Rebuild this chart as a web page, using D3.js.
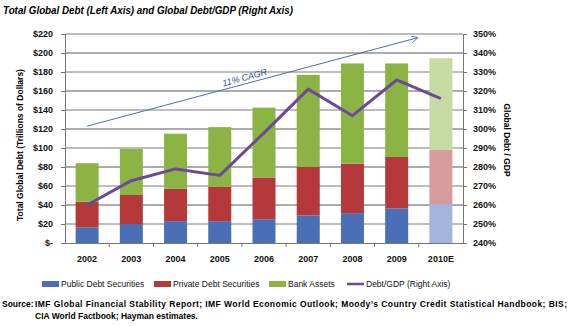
<!DOCTYPE html>
<html>
<head>
<meta charset="utf-8">
<script src="https://cdn.jsdelivr.net/npm/d3@7"></script>
<style>
  body { margin: 0; background: #fff; }
  text { font-family: "Liberation Sans", Arial, sans-serif; }
</style>
</head>
<body>
<div id="chart"></div>
<script>
const years = ["2002", "2003", "2004", "2005", "2006", "2007", "2008", "2009", "2010E"];
// trillions of dollars
const publicDebt = [16.5, 20, 23, 23, 25, 29, 31.5, 36.5, 41];
const privateDebt = [27, 30.5, 34, 36, 44, 51, 52, 54, 57];
const bankAssets = [40.5, 48.5, 58, 63, 73.5, 97, 105.5, 98.5, 96.5];
// percent
const debtToGdp = [260, 272.8, 279, 275.6, 298, 321, 307, 325.8, 316];
const leftTicks = [0, 20, 40, 60, 80, 100, 120, 140, 160, 180, 200, 220];
const rightTicks = [240, 250, 260, 270, 280, 290, 300, 310, 320, 330, 340, 350];

const width = 571;
const height = 326;
const colors = ["#4a6fb6", "#b5383a", "#8bb444"];
const faded = ["#a3b5db", "#d99c9c", "#c6dba3"];

const svg = d3
  .select("#chart")
  .append("svg")
  .attr("width", width)
  .attr("height", height);

const x = d3
  .scaleBand()
  .domain(years)
  .range([65, 463])
  .paddingInner(0.48)
  .paddingOuter(0.24);
const y = d3.scaleLinear().domain([0, 220]).range([243, 34]);
const yR = d3.scaleLinear().domain([240, 350]).range([243, 34]);

// title
svg
  .append("text")
  .attr("x", 3)
  .attr("y", 14)
  .attr("textLength", 290)
  .attr("lengthAdjust", "spacingAndGlyphs")
  .style("font-size", "11px")
  .style("font-weight", "bold")
  .style("font-style", "italic")
  .text("Total Global Debt (Left Axis) and Global Debt/GDP (Right Axis)");

// gridlines, alternating like the original (two overlaid grids)
svg
  .append("g")
  .selectAll("line")
  .data(leftTicks.slice(1))
  .enter()
  .append("line")
  .attr("x1", 65)
  .attr("x2", 463)
  .attr("y1", (d) => y(d))
  .attr("y2", (d) => y(d))
  .attr("stroke", (d) => ((d / 20) % 2 ? "#bdbdbd" : "#5a5a5a"))
  .attr("stroke-width", (d) => ((d / 20) % 2 ? 2 : 1));

// stacked bars
const rows = years.map((yr, i) => ({
  year: yr,
  publicDebt: publicDebt[i],
  privateDebt: privateDebt[i],
  bankAssets: bankAssets[i],
}));
const stack = d3.stack().keys(["publicDebt", "privateDebt", "bankAssets"])(rows);

svg
  .append("g")
  .selectAll("g")
  .data(stack)
  .enter()
  .append("g")
  .selectAll("rect")
  .data((s) => s.map((d) => ({ d, k: s.index })))
  .enter()
  .append("rect")
  .attr("x", (e) => x(e.d.data.year))
  .attr("width", x.bandwidth())
  .attr("y", (e) => y(e.d[1]))
  .attr("height", (e) => y(e.d[0]) - y(e.d[1]))
  .attr("fill", (e) => (e.d.data.year === "2010E" ? faded[e.k] : colors[e.k]));

// debt / gdp line
const line = d3
  .line()
  .x((d, i) => x(years[i]) + x.bandwidth() / 2)
  .y((d) => yR(d));
svg
  .append("path")
  .datum(debtToGdp)
  .attr("d", line)
  .attr("fill", "none")
  .attr("stroke", "#6b4a97")
  .attr("stroke-width", 3)
  .attr("stroke-linejoin", "round");

// CAGR arrow annotation
svg
  .append("defs")
  .append("marker")
  .attr("id", "arrow")
  .attr("viewBox", "0 0 10 10")
  .attr("refX", 9)
  .attr("refY", 5)
  .attr("markerWidth", 7)
  .attr("markerHeight", 7)
  .attr("orient", "auto")
  .append("path")
  .attr("d", "M0,0 L10,5 L0,10")
  .attr("fill", "none")
  .attr("stroke", "#4a6fb0")
  .attr("stroke-width", 1.2);

const ax1 = x("2002") + x.bandwidth() / 2;
const ay1 = y(123);
const ax2 = x("2010E") - 12;
const ay2 = y(216);
svg
  .append("line")
  .attr("x1", ax1)
  .attr("y1", ay1)
  .attr("x2", ax2)
  .attr("y2", ay2)
  .attr("stroke", "#4a6fb0")
  .attr("stroke-width", 1)
  .attr("marker-end", "url(#arrow)");

const angle = (Math.atan2(ay2 - ay1, ax2 - ax1) * 180) / Math.PI;
svg
  .append("text")
  .attr("transform", `translate(${x("2006") - 7},${y(171)}) rotate(${angle})`)
  .attr("text-anchor", "middle")
  .style("font-size", "9px")
  .style("font-style", "italic")
  .style("fill", "#2a4f8f")
  .text("11% CAGR");

// axes
const leftAxis = d3
  .axisLeft(y)
  .tickValues(leftTicks)
  .tickSize(4)
  .tickPadding(8)
  .tickFormat((d) => (d === 0 ? "$-" : "$" + d));
const gl = svg.append("g").attr("transform", "translate(65,0)").call(leftAxis);

const rightAxis = d3
  .axisRight(yR)
  .tickValues(rightTicks)
  .tickSize(4)
  .tickPadding(6)
  .tickFormat((d) => d + "%");
const gr = svg.append("g").attr("transform", "translate(463,0)").call(rightAxis);

const bottomAxis = d3.axisBottom(x).tickSize(0).tickPadding(13);
const gb = svg.append("g").attr("transform", "translate(0,243)").call(bottomAxis);

// category boundary ticks
svg
  .append("g")
  .selectAll("line")
  .data(years.slice(1))
  .enter()
  .append("line")
  .attr("x1", (d) => x(d) - (x.step() - x.bandwidth()) / 2)
  .attr("x2", (d) => x(d) - (x.step() - x.bandwidth()) / 2)
  .attr("y1", 243)
  .attr("y2", 247)
  .attr("stroke", "#777");

[gl, gr, gb].forEach((g) => {
  g.select(".domain").attr("stroke", "#777");
  g.selectAll(".tick line").attr("stroke", "#777");
  g.selectAll("text")
    .attr("font-family", null)
    .style("font-size", "9px")
    .style("font-weight", "bold")
    .style("fill", "#111");
});

// axis titles
svg
  .append("text")
  .attr("transform", "translate(23,145) rotate(-90)")
  .attr("text-anchor", "middle")
  .style("font-size", "8.5px")
  .style("font-weight", "bold")
  .text("Total Global Debt (Trillions  of Dollars)");

svg
  .append("text")
  .attr("transform", "translate(504,140) rotate(90)")
  .attr("text-anchor", "middle")
  .style("font-size", "8.5px")
  .style("font-weight", "bold")
  .text("Global Debt / GDP");

// legend
const legendItems = [
  { name: "Public Debt Securities", x: 42, type: "rect", color: colors[0] },
  { name: "Private Debt Securities", x: 154, type: "rect", color: colors[1] },
  { name: "Bank Assets", x: 269, type: "rect", color: colors[2] },
  { name: "Debt/GDP (Right Axis)", x: 347, type: "line", color: "#6b4a97" },
];
const legend = svg
  .append("g")
  .selectAll("g")
  .data(legendItems)
  .enter()
  .append("g")
  .attr("transform", (d) => `translate(${d.x},284)`);
legend
  .filter((d) => d.type === "rect")
  .append("rect")
  .attr("y", -3)
  .attr("width", 17)
  .attr("height", 6)
  .attr("fill", (d) => d.color);
legend
  .filter((d) => d.type === "line")
  .append("line")
  .attr("x1", 0)
  .attr("x2", 17)
  .attr("stroke", (d) => d.color)
  .attr("stroke-width", 2.5);
legend
  .append("text")
  .attr("x", 19)
  .attr("y", 3)
  .style("font-size", "8.5px")
  .style("font-weight", "500")
  .style("fill", "#111")
  .text((d) => d.name);

// source note
svg
  .append("text")
  .attr("x", 2)
  .attr("y", 307)
  .style("font-size", "8.5px")
  .style("font-weight", "bold")
  .text("Source:");
svg
  .append("text")
  .attr("x", 35)
  .attr("y", 307)
  .attr("textLength", 532)
  .attr("lengthAdjust", "spacing")
  .style("font-size", "8.5px")
  .style("font-weight", "bold")
  .text("IMF Global Financial Stability Report; IMF World Economic Outlook; Moody\u2019s Country Credit Statistical Handbook; BIS;");
svg
  .append("text")
  .attr("x", 35)
  .attr("y", 319)
  .style("font-size", "8.5px")
  .style("font-weight", "bold")
  .text("CIA World Factbook; Hayman estimates.");
</script>
</body>
</html>
